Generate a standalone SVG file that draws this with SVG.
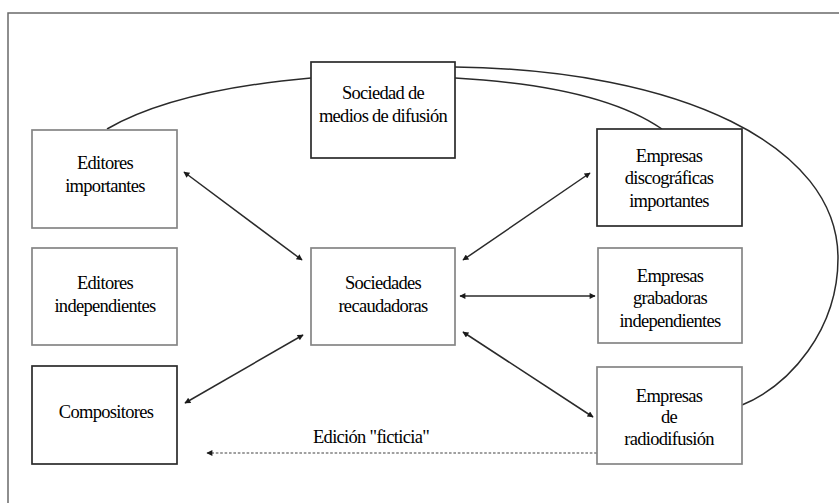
<svg xmlns="http://www.w3.org/2000/svg" width="839" height="503" viewBox="0 0 839 503">
  <style>
    .box { fill: #ffffff; stroke-width: 1.7; }
    .dark { stroke: #2b2b2b; }
    .light { stroke: #858585; }
    text { font-family: 'Liberation Serif', 'DejaVu Serif', serif; font-size: 18.5px; letter-spacing: -0.7px; fill: #000; text-anchor: middle; }
    .curve { fill: none; stroke: #2a2a2a; stroke-width: 1.5; }
    .link { fill: none; stroke: #2a2a2a; stroke-width: 1.5; marker-start: url(#head); marker-end: url(#head); }
    .dotted { fill: none; stroke: #a0a0a0; stroke-width: 2.2; stroke-dasharray: 2.6 1.8; marker-start: url(#head); }
  </style>
  <defs>
    <marker id="head" viewBox="0 0 10 10" refX="9" refY="5" markerWidth="9" markerHeight="6" markerUnits="userSpaceOnUse" orient="auto-start-reverse">
      <path d="M0,0 L10,5 L0,10 z" fill="#1a1a1a"/>
    </marker>
  </defs>

  <rect width="839" height="503" fill="#ffffff"/>
  <!-- outer frame -->
  <path d="M8,503 V13 H839" fill="none" stroke="#6a6a6a" stroke-width="1.5"/>

  <g id="connectors">
    <path class="curve" d="M107,129 Q175,90 311,78"/>
    <path class="curve" d="M455,78 Q600,86 662,129"/>
    <path class="curve" d="M455,67 C680,70 838,145 838,258 C838,330 790,385 742,405"/>
    <line class="link" x1="184" y1="172" x2="302" y2="260"/>
    <line class="link" x1="463" y1="260" x2="590" y2="173"/>
    <line class="link" x1="460" y1="296" x2="595" y2="296"/>
    <line class="link" x1="303" y1="335" x2="185" y2="403"/>
    <line class="link" x1="463" y1="332" x2="593" y2="417"/>
    <line class="dotted" x1="207" y1="453" x2="597" y2="453"/>
    <text x="371" y="443">Edición "ficticia"</text>
  </g>

  <g id="sociedad-medios">
    <rect class="box dark" x="311" y="62" width="144" height="96"/>
    <text x="383" y="99">Sociedad de</text>
    <text x="383" y="122">medios de difusión</text>
  </g>

  <g id="editores-importantes">
    <rect class="box light" x="32" y="130" width="145" height="98"/>
    <text x="105" y="169">Editores</text>
    <text x="105" y="192">importantes</text>
  </g>

  <g id="editores-independientes">
    <rect class="box light" x="32" y="248" width="145" height="97"/>
    <text x="105" y="289">Editores</text>
    <text x="105" y="312">independientes</text>
  </g>

  <g id="compositores">
    <rect class="box dark" x="32" y="366" width="145" height="98"/>
    <text x="106" y="418">Compositores</text>
  </g>

  <g id="sociedades-recaudadoras">
    <rect class="box light" x="311" y="248" width="144" height="97"/>
    <text x="383" y="289">Sociedades</text>
    <text x="383" y="312">recaudadoras</text>
  </g>

  <g id="discograficas-importantes">
    <rect class="box dark" x="597" y="129" width="145" height="97"/>
    <text x="669" y="162">Empresas</text>
    <text x="669" y="184">discográficas</text>
    <text x="669" y="207">importantes</text>
  </g>

  <g id="grabadoras-independientes">
    <rect class="box light" x="598" y="248" width="144" height="95"/>
    <text x="670" y="282">Empresas</text>
    <text x="670" y="304">grabadoras</text>
    <text x="670" y="327">independientes</text>
  </g>

  <g id="radiodifusion">
    <rect class="box light" x="597" y="367" width="145" height="97"/>
    <text x="669" y="402">Empresas</text>
    <text x="669" y="423">de</text>
    <text x="669" y="445">radiodifusión</text>
  </g>
</svg>
